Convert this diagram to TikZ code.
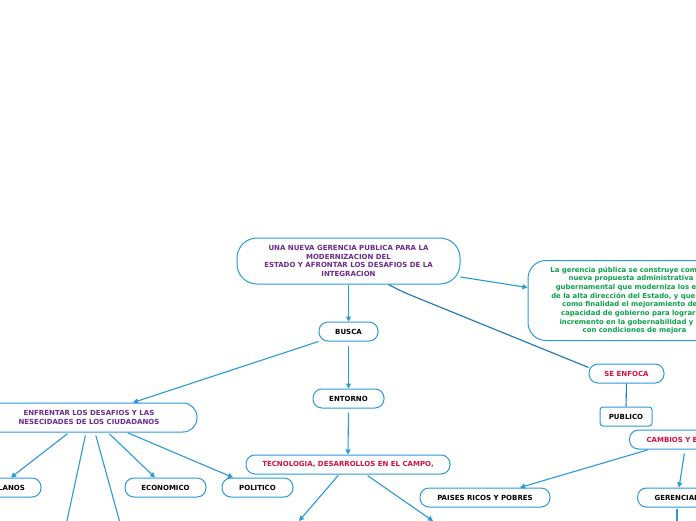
\documentclass[tikz,border=0pt]{standalone}
\usepackage{fontspec}
\setmainfont{DejaVu Sans}
\usetikzlibrary{arrows.meta}
\definecolor{lblue}{HTML}{2A9AD9}
\definecolor{dblue}{HTML}{1A75BC}
\definecolor{purp}{HTML}{6A2C8E}
\definecolor{redt}{HTML}{D3123E}
\definecolor{greent}{HTML}{0AA14B}
\begin{document}
\begin{tikzpicture}[x=1pt,y=-1pt,
  box/.style={draw=lblue, line width=1pt, fill=white, rounded corners=9pt,
    font=\fontsize{7}{8.8}\selectfont\bfseries, inner sep=0pt, align=center,
    minimum height=19pt},
  conn/.style={draw=lblue, line width=1.1pt, -{Triangle[length=5pt,width=5pt]}},
  plain/.style={draw=lblue, line width=1.1pt}
]
\useasboundingbox[fill=white] (0,0) rectangle (696,520);

\node[box, minimum width=223pt, minimum height=46pt, rounded corners=20pt, text=purp] (main) at (348.5,261)
  {UNA NUEVA GERENCIA PUBLICA PARA LA\\MODERNIZACION DEL\\ESTADO Y AFRONTAR LOS DESAFIOS DE LA\\INTEGRACION};
\node[box, minimum width=213pt, minimum height=80pt, rounded corners=18pt, text=greent, font=\fontsize{6.9}{8.7}\selectfont\bfseries] (green) at (634.5,300.5)
  {La gerencia pública se construye como una\\nueva propuesta administrativa y\\gubernamental que moderniza los entes\\de la alta dirección del Estado, y que tiene\\como finalidad el mejoramiento de la\\capacidad de gobierno para lograr un\\incremento en la gobernabilidad y con\\con condiciones de mejora};
\node[box, minimum width=59pt] (busca) at (348.5,331.5) {BUSCA};
\node[box, minimum width=71pt] (entorno) at (348.5,398.5) {ENTORNO};
\node[box, minimum width=204pt, text=redt] (tec) at (348,464.5) {TECNOLOGIA, DESARROLLOS EN EL CAMPO,};
\node[box, minimum width=216pt, minimum height=29pt, rounded corners=14pt, text=purp] (enf) at (89,417.5)
  {ENFRENTAR LOS DESAFIOS Y LAS\\NESECIDADES DE LOS CIUDADANOS};
\node[box, minimum width=64pt] (planos) at (9,487.5) {PLANOS};
\node[box, minimum width=81pt] (econ) at (165.5,487.5) {ECONOMICO};
\node[box, minimum width=71pt] (polit) at (257.5,487.5) {POLITICO};
\node[box, minimum width=75pt, text=redt] (seenf) at (626.5,373.5) {SE ENFOCA};
\node[box, minimum width=52pt, rounded corners=3pt] (publico) at (626,416.5) {PUBLICO};
\node[box, anchor=west, text=redt, text width=100pt, align=left, inner xsep=17pt] (cambios) at (629,439.5) {CAMBIOS Y E};
\node[box, minimum width=130pt] (paises) at (485,497.5) {PAISES RICOS Y POBRES};
\node[box, anchor=west, text width=100pt, align=left, inner xsep=17pt] (ger) at (637,497.5) {GERENCIAL};

\coordinate (t1) at (299,521);
\coordinate (t2) at (433,521);
\coordinate (e1) at (65,530);
\coordinate (e2) at (122,530);
\coordinate (g1) at (677,530);

\draw[conn] ([yshift=-16pt]main.east) -- ([yshift=13pt]green.west);
\draw[conn] (main.south) -- (busca.north);
\draw[draw=dblue, line width=1.1pt, rounded corners=6pt] ([xshift=40pt]main.south) -- (403,292) -- ([yshift=6pt]seenf.west);
\draw[conn, shorten <=4pt] (busca.south) -- (entorno.north);
\draw[conn] (busca.south west) -- ([xshift=44pt]enf.north);
\draw[conn, shorten <=4pt] (entorno.south) -- (tec.north);
\draw[conn, shorten <=1pt] ([xshift=-9pt]tec.south) -- (t1);
\draw[conn, shorten <=2pt] ([xshift=18pt]tec.south) -- (t2);
\draw[conn, shorten <=2pt] ([xshift=-20pt]enf.south) -- ([xshift=2pt]planos.north);
\draw[plain, shorten <=3pt] ([xshift=-3pt]enf.south) -- (e1);
\draw[plain, shorten <=3pt] ([xshift=6pt]enf.south) -- (e2);
\draw[conn, shorten <=2pt] ([xshift=19pt]enf.south) -- ([xshift=-10.5pt]econ.north);
\draw[conn, shorten <=1pt] ([xshift=38pt]enf.south) -- ([xshift=-24.5pt]polit.north);
\draw[plain, draw=dblue!80!lblue] (seenf.south) -- (publico.north);
\draw[conn, shorten <=1pt] ([xshift=20pt]cambios.south west) -- ([xshift=35pt]paises.north);
\draw[conn, shorten <=4pt] ([xshift=56pt]cambios.south west) -- ([xshift=42pt]ger.north west);
\draw[plain, shorten <=1pt] ([xshift=40pt]ger.south west) -- (g1);
\end{tikzpicture}
\end{document}
